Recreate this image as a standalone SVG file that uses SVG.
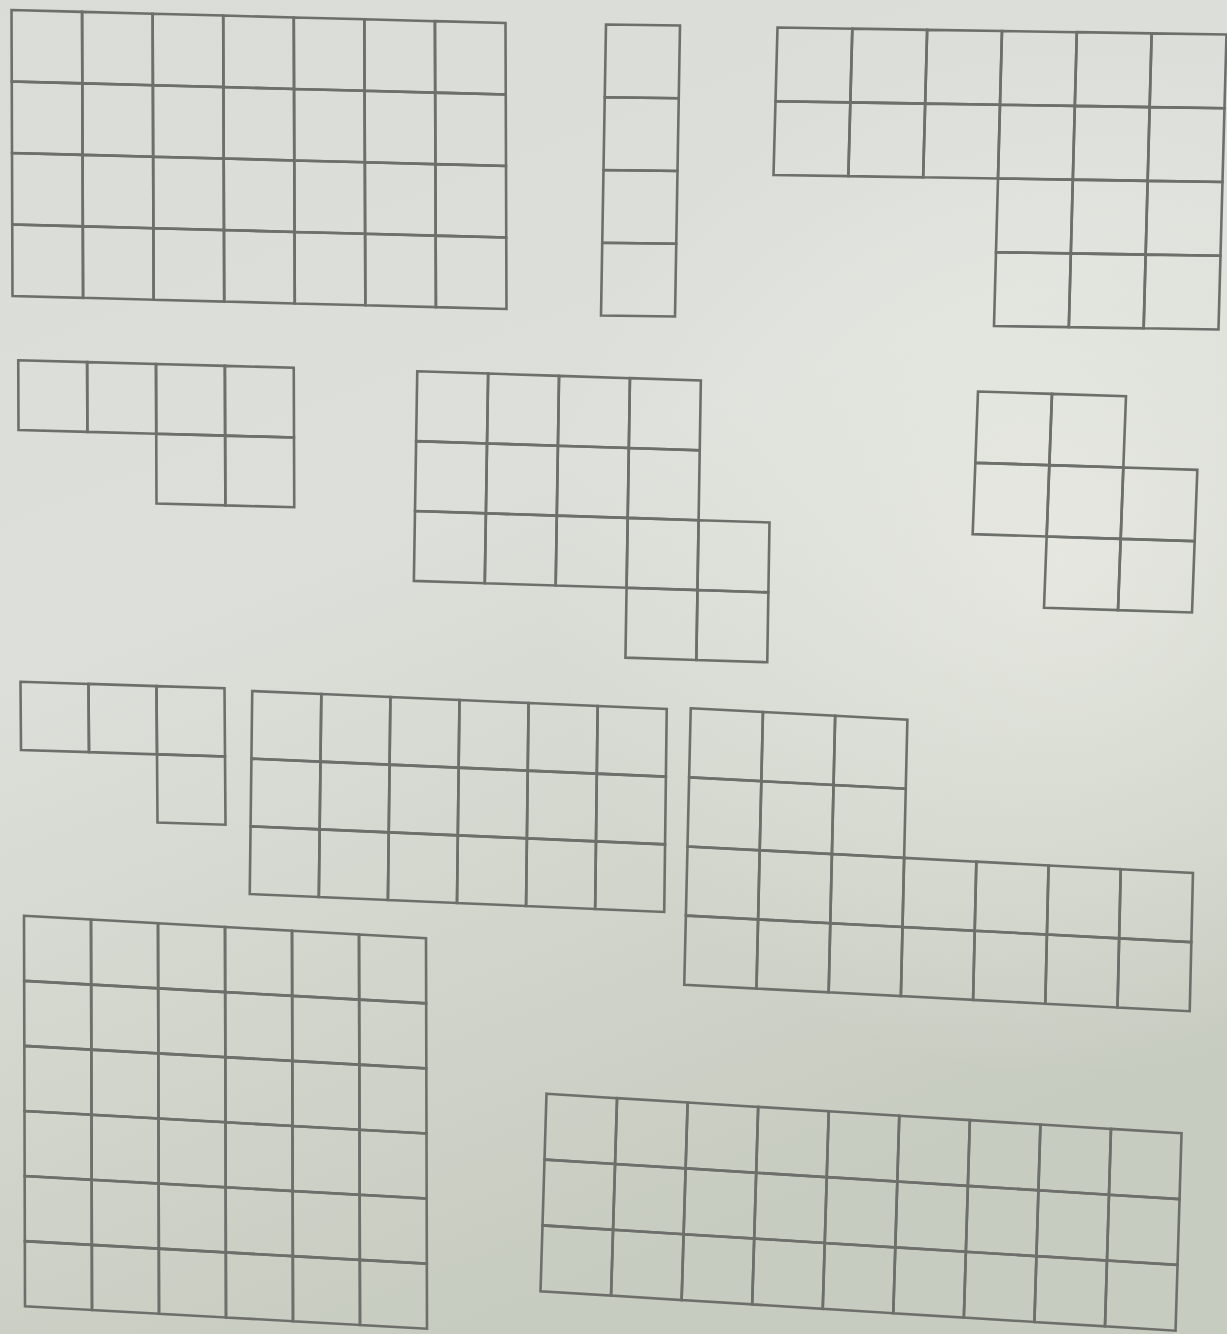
<svg xmlns="http://www.w3.org/2000/svg" xmlns:xlink="http://www.w3.org/1999/xlink" width="1227" height="1334" viewBox="0 0 1227 1334">
<defs>
<linearGradient id="bg" x1="0" y1="0" x2="0.35" y2="1">
<stop offset="0" stop-color="#d9dcd7"/>
<stop offset="0.45" stop-color="#dde0da"/>
<stop offset="1" stop-color="#c7ccc0"/>
</linearGradient>
<radialGradient id="hl" cx="1060" cy="560" r="520" gradientUnits="userSpaceOnUse">
<stop offset="0" stop-color="#f2f2ec" stop-opacity="0.55"/>
<stop offset="1" stop-color="#f2f2ec" stop-opacity="0"/>
</radialGradient>
<rect id="cell" x="0" y="0" width="1" height="1" fill="none" stroke="#6d6f6b" stroke-width="2.6" vector-effect="non-scaling-stroke"/>
</defs>
<style>
.g { fill: none; stroke: #6d6f6b; stroke-width: 2.6; }
</style>
<rect x="0" y="0" width="1227" height="1334" fill="url(#bg)"/>
<rect x="0" y="0" width="1227" height="1334" fill="url(#hl)"/>

<g id="shape1" class="g" transform="matrix(70.57 1.857 0.25 71.5 11.5 10)">
<use href="#cell" x="0" y="0"/><use href="#cell" x="1" y="0"/><use href="#cell" x="2" y="0"/><use href="#cell" x="3" y="0"/><use href="#cell" x="4" y="0"/><use href="#cell" x="5" y="0"/><use href="#cell" x="6" y="0"/>
<use href="#cell" x="0" y="1"/><use href="#cell" x="1" y="1"/><use href="#cell" x="2" y="1"/><use href="#cell" x="3" y="1"/><use href="#cell" x="4" y="1"/><use href="#cell" x="5" y="1"/><use href="#cell" x="6" y="1"/>
<use href="#cell" x="0" y="2"/><use href="#cell" x="1" y="2"/><use href="#cell" x="2" y="2"/><use href="#cell" x="3" y="2"/><use href="#cell" x="4" y="2"/><use href="#cell" x="5" y="2"/><use href="#cell" x="6" y="2"/>
<use href="#cell" x="0" y="3"/><use href="#cell" x="1" y="3"/><use href="#cell" x="2" y="3"/><use href="#cell" x="3" y="3"/><use href="#cell" x="4" y="3"/><use href="#cell" x="5" y="3"/><use href="#cell" x="6" y="3"/>
</g>

<g id="shape2" class="g" transform="matrix(74 1 -1.25 72.75 606 24.5)">
<use href="#cell" x="0" y="0"/><use href="#cell" x="0" y="1"/><use href="#cell" x="0" y="2"/><use href="#cell" x="0" y="3"/>
</g>

<g id="shape3" class="g" transform="matrix(74.83 1.167 -2 73.75 777.5 27.5)">
<use href="#cell" x="0" y="0"/><use href="#cell" x="1" y="0"/><use href="#cell" x="2" y="0"/><use href="#cell" x="3" y="0"/><use href="#cell" x="4" y="0"/><use href="#cell" x="5" y="0"/>
<use href="#cell" x="0" y="1"/><use href="#cell" x="1" y="1"/><use href="#cell" x="2" y="1"/><use href="#cell" x="3" y="1"/><use href="#cell" x="4" y="1"/><use href="#cell" x="5" y="1"/>
<use href="#cell" x="3" y="2"/><use href="#cell" x="4" y="2"/><use href="#cell" x="5" y="2"/>
<use href="#cell" x="3" y="3"/><use href="#cell" x="4" y="3"/><use href="#cell" x="5" y="3"/>
</g>

<g id="shape4" class="g" transform="matrix(68.875 1.875 0.25 69.75 18.25 360.25)">
<use href="#cell" x="0" y="0"/><use href="#cell" x="1" y="0"/><use href="#cell" x="2" y="0"/><use href="#cell" x="3" y="0"/>
<use href="#cell" x="2" y="1"/><use href="#cell" x="3" y="1"/>
</g>

<g id="shape5" class="g" transform="matrix(70.9 2.3 -1.125 69.875 417.25 371.25)">
<use href="#cell" x="0" y="0"/><use href="#cell" x="1" y="0"/><use href="#cell" x="2" y="0"/><use href="#cell" x="3" y="0"/>
<use href="#cell" x="0" y="1"/><use href="#cell" x="1" y="1"/><use href="#cell" x="2" y="1"/><use href="#cell" x="3" y="1"/>
<use href="#cell" x="0" y="2"/><use href="#cell" x="1" y="2"/><use href="#cell" x="2" y="2"/><use href="#cell" x="3" y="2"/><use href="#cell" x="4" y="2"/>
<use href="#cell" x="3" y="3"/><use href="#cell" x="4" y="3"/>
</g>

<g id="shape6" class="g" transform="matrix(74 2.333 -2.667 71.33 978 391.5)">
<use href="#cell" x="0" y="0"/><use href="#cell" x="1" y="0"/>
<use href="#cell" x="0" y="1"/><use href="#cell" x="1" y="1"/><use href="#cell" x="2" y="1"/>
<use href="#cell" x="1" y="2"/><use href="#cell" x="2" y="2"/>
</g>

<g id="shape7" class="g" transform="matrix(68 2.167 0.5 68.25 20.5 681.75)">
<use href="#cell" x="0" y="0"/><use href="#cell" x="1" y="0"/><use href="#cell" x="2" y="0"/>
<use href="#cell" x="2" y="1"/>
</g>

<g id="shape8" class="g" transform="matrix(69.08 3 -0.833 67.67 252.25 691)">
<use href="#cell" x="0" y="0"/><use href="#cell" x="1" y="0"/><use href="#cell" x="2" y="0"/><use href="#cell" x="3" y="0"/><use href="#cell" x="4" y="0"/><use href="#cell" x="5" y="0"/>
<use href="#cell" x="0" y="1"/><use href="#cell" x="1" y="1"/><use href="#cell" x="2" y="1"/><use href="#cell" x="3" y="1"/><use href="#cell" x="4" y="1"/><use href="#cell" x="5" y="1"/>
<use href="#cell" x="0" y="2"/><use href="#cell" x="1" y="2"/><use href="#cell" x="2" y="2"/><use href="#cell" x="3" y="2"/><use href="#cell" x="4" y="2"/><use href="#cell" x="5" y="2"/>
</g>

<g id="shape9" class="g" transform="matrix(72.21 3.786 -1.625 69.125 690.75 708.25)">
<use href="#cell" x="0" y="0"/><use href="#cell" x="1" y="0"/><use href="#cell" x="2" y="0"/>
<use href="#cell" x="0" y="1"/><use href="#cell" x="1" y="1"/><use href="#cell" x="2" y="1"/>
<use href="#cell" x="0" y="2"/><use href="#cell" x="1" y="2"/><use href="#cell" x="2" y="2"/><use href="#cell" x="3" y="2"/><use href="#cell" x="4" y="2"/><use href="#cell" x="5" y="2"/><use href="#cell" x="6" y="2"/>
<use href="#cell" x="0" y="3"/><use href="#cell" x="1" y="3"/><use href="#cell" x="2" y="3"/><use href="#cell" x="3" y="3"/><use href="#cell" x="4" y="3"/><use href="#cell" x="5" y="3"/><use href="#cell" x="6" y="3"/>
</g>

<g id="shape10" class="g" transform="matrix(67 3.75 0.1667 65.08 24 915.75)">
<use href="#cell" x="0" y="0"/><use href="#cell" x="1" y="0"/><use href="#cell" x="2" y="0"/><use href="#cell" x="3" y="0"/><use href="#cell" x="4" y="0"/><use href="#cell" x="5" y="0"/>
<use href="#cell" x="0" y="1"/><use href="#cell" x="1" y="1"/><use href="#cell" x="2" y="1"/><use href="#cell" x="3" y="1"/><use href="#cell" x="4" y="1"/><use href="#cell" x="5" y="1"/>
<use href="#cell" x="0" y="2"/><use href="#cell" x="1" y="2"/><use href="#cell" x="2" y="2"/><use href="#cell" x="3" y="2"/><use href="#cell" x="4" y="2"/><use href="#cell" x="5" y="2"/>
<use href="#cell" x="0" y="3"/><use href="#cell" x="1" y="3"/><use href="#cell" x="2" y="3"/><use href="#cell" x="3" y="3"/><use href="#cell" x="4" y="3"/><use href="#cell" x="5" y="3"/>
<use href="#cell" x="0" y="4"/><use href="#cell" x="1" y="4"/><use href="#cell" x="2" y="4"/><use href="#cell" x="3" y="4"/><use href="#cell" x="4" y="4"/><use href="#cell" x="5" y="4"/>
<use href="#cell" x="0" y="5"/><use href="#cell" x="1" y="5"/><use href="#cell" x="2" y="5"/><use href="#cell" x="3" y="5"/><use href="#cell" x="4" y="5"/><use href="#cell" x="5" y="5"/>
</g>

<g id="shape11" class="g" transform="matrix(70.56 4.389 -2 65.83 546.5 1093.75)">
<use href="#cell" x="0" y="0"/><use href="#cell" x="1" y="0"/><use href="#cell" x="2" y="0"/><use href="#cell" x="3" y="0"/><use href="#cell" x="4" y="0"/><use href="#cell" x="5" y="0"/><use href="#cell" x="6" y="0"/><use href="#cell" x="7" y="0"/><use href="#cell" x="8" y="0"/>
<use href="#cell" x="0" y="1"/><use href="#cell" x="1" y="1"/><use href="#cell" x="2" y="1"/><use href="#cell" x="3" y="1"/><use href="#cell" x="4" y="1"/><use href="#cell" x="5" y="1"/><use href="#cell" x="6" y="1"/><use href="#cell" x="7" y="1"/><use href="#cell" x="8" y="1"/>
<use href="#cell" x="0" y="2"/><use href="#cell" x="1" y="2"/><use href="#cell" x="2" y="2"/><use href="#cell" x="3" y="2"/><use href="#cell" x="4" y="2"/><use href="#cell" x="5" y="2"/><use href="#cell" x="6" y="2"/><use href="#cell" x="7" y="2"/><use href="#cell" x="8" y="2"/>
</g>
</svg>
